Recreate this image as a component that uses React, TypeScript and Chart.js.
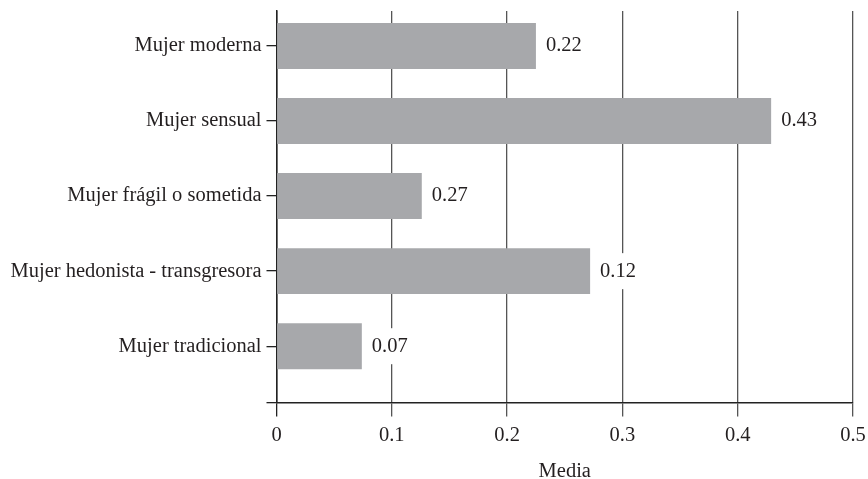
import React, { useEffect, useRef } from 'react';
import { Chart, registerables } from 'chart.js';

Chart.register(...registerables);

const categories = [
  'Mujer moderna',
  'Mujer sensual',
  'Mujer frágil o sometida',
  'Mujer hedonista - transgresora',
  'Mujer tradicional',
];
const barValues = [0.225, 0.429, 0.126, 0.272, 0.074];
const valueLabels = ['0.22', '0.43', '0.27', '0.12', '0.07'];
const xTicks = [0, 0.1, 0.2, 0.3, 0.4, 0.5];
const xTitle = 'Media';

const FONT = '"Liberation Serif", "Times New Roman", serif';
const TEXT = '#231f20';

const valueLabelPlugin = {
  id: 'valueLabels',
  afterDatasetsDraw(chart: any) {
    const ctx = chart.ctx;
    const meta = chart.getDatasetMeta(0);
    ctx.save();
    ctx.font = `20.5px ${FONT}`;
    ctx.textBaseline = 'middle';
    ctx.textAlign = 'left';
    meta.data.forEach((bar: any, i: number) => {
      const text = valueLabels[i];
      const w = ctx.measureText(text).width;
      const x = bar.x + 10;
      const y = bar.y;
      ctx.fillStyle = '#ffffff';
      ctx.fillRect(x - 4, y - 18, w + 8, 36);
      ctx.fillStyle = TEXT;
      ctx.fillText(text, x, y);
    });
    ctx.restore();
  },
};

export default function App() {
  const ref = useRef<HTMLCanvasElement | null>(null);

  useEffect(() => {
    if (!ref.current) return;
    const yMax = 4.75;
    const chart = new Chart(ref.current, {
      type: 'bar',
      data: {
        datasets: [
          {
            data: barValues.map((v, i) => ({ x: v, y: i })),
            backgroundColor: '#a7a8ab',
            borderWidth: 0,
            barPercentage: 0.816,
            categoryPercentage: 1,
          },
        ],
      },
      options: {
        indexAxis: 'y',
        animation: false,
        responsive: false,
        devicePixelRatio: 1,
        layout: { padding: { left: 0, top: 11, right: 15, bottom: 0 } },
        plugins: {
          legend: { display: false },
          tooltip: { enabled: false },
        },
        scales: {
          x: {
            type: 'linear',
            min: 0,
            max: 0.5,
            offset: false,
            afterBuildTicks: (scale: any) => {
              scale.ticks = xTicks.map((v) => ({ value: v }));
            },
            afterFit: (scale: any) => {
              scale.height = 76.5;
              scale.paddingLeft = 0;
              scale.paddingRight = 0;
            },
            ticks: {
              callback: (v: any) => String(v),
              font: { family: FONT, size: 20.5 },
              color: TEXT,
              padding: 7,
              maxRotation: 0,
              autoSkip: false,
            },
            grid: {
              color: (c: any) => (c.index === 0 ? '#222' : '#555'),
              lineWidth: 1.3,
              tickLength: 14,
              offset: false,
              drawOnChartArea: true,
              drawTicks: true,
            },
            border: { display: true, color: '#222', width: 1.5 },
            title: {
              display: true,
              text: xTitle,
              font: { family: FONT, size: 20.5 },
              color: TEXT,
              padding: { top: 12, bottom: -5 },
            },
          },
          y: {
            type: 'linear',
            reverse: true,
            min: -0.466,
            max: yMax,
            offset: false,
            afterBuildTicks: (scale: any) => {
              scale.ticks = [...categories.map((_, i) => ({ value: i })), { value: yMax }];
            },
            afterFit: (scale: any) => {
              scale.width = 276.5;
              scale.paddingTop = 0;
              scale.paddingBottom = 0;
            },
            ticks: {
              callback: (v: any) => (Number.isInteger(v) ? categories[v] ?? '' : ''),
              font: { family: FONT, size: 20.5 },
              color: TEXT,
              padding: 5,
              autoSkip: false,
            },
            grid: {
              color: '#222',
              lineWidth: 1.3,
              tickLength: 10,
              offset: false,
              drawOnChartArea: false,
              drawTicks: true,
            },
            border: { display: true, color: '#222', width: 1.5 },
          },
        },
      },
      plugins: [valueLabelPlugin],
    } as any);
    return () => chart.destroy();
  }, []);

  return (
    <div style={{ position: 'absolute', left: 0, top: 0, width: 868, height: 479, background: '#fff' }}>
      <canvas ref={ref} width={868} height={479} />
    </div>
  );
}
